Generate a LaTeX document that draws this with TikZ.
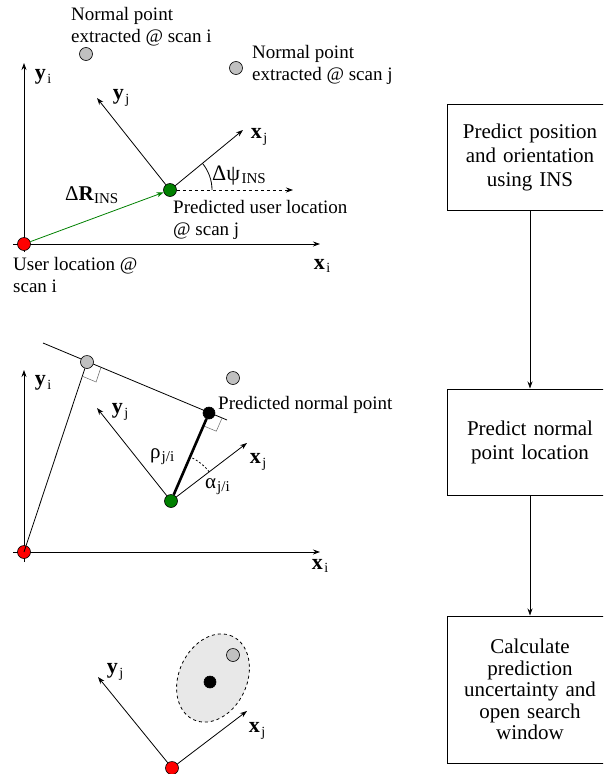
\documentclass[tikz,border=0pt]{standalone}
\usepackage{fontspec}
\setmainfont{Liberation Serif}
\usetikzlibrary{arrows.meta,shapes.geometric}
\definecolor{dgreen}{RGB}{0,128,0}
\definecolor{ptgray}{RGB}{192,192,192}
\definecolor{elgray}{RGB}{232,232,232}
\newcommand{\axl}[2]{{\fontsize{22}{22}\selectfont\bfseries #1}\kern1.5pt{\fontsize{14}{14}\selectfont\raisebox{-3.5pt}{#2}}}
\newcommand{\sbs}[1]{{\fontsize{15}{15}\selectfont\raisebox{-3.5pt}{#1}}}
\begin{document}
\begin{tikzpicture}[x=1pt,y=-1pt,
  thinline/.style={line width=0.8pt},
  arr/.style={thinline,-{Stealth[length=7pt,width=5pt]}},
  dot/.style={circle,draw=black,line width=0.6pt,minimum size=13pt,inner sep=0pt},
  lbl/.style={font=\fontsize{19}{22}\selectfont, align=left, inner sep=0pt},
  axlbl/.style={inner sep=0pt},
  sq/.style={draw=black!60,line width=0.5pt},
  box/.style={draw, line width=1pt, minimum width=166pt, text width=160pt, align=center, font=\fontsize{21}{24}\selectfont, inner sep=0pt},
  ]
\useasboundingbox (0,0) rectangle (603,774);
\clip (0,0) rectangle (603,774);

% ---------- flow chart ----------
\node[box, minimum height=106pt] (b1) at (530,157) {Predict position\\and orientation\\using INS};
\node[box, minimum height=106pt] (b2) at (530,442) {Predict normal\\point location};
\node[box, minimum height=147pt, font=\fontsize{21}{21.5}\selectfont] (b3) at (530,689.5) {Calculate\\prediction\\uncertainty and\\open search\\window};
\draw[arr] (b1) -- (b2);
\draw[arr] (b2) -- (b3);

% ---------- panel 1 ----------
\coordinate (yi1) at (24,63); \coordinate (yi1b) at (24,252);
\coordinate (xi1) at (320,244); \coordinate (xi1b) at (13,244);
\draw[arr] (yi1b) -- (yi1);
\draw[arr] (xi1b) -- (xi1);
\coordinate (xj1) at (243,130);
\coordinate (yj1) at (97,98);
\coordinate (dj1) at (293,190);
\node[dot, fill=red] (r1) at (24,244) {};
\node[dot, fill=dgreen] (g1) at (170,190) {};
\draw[arr, color=dgreen] (r1) -- (g1);
\draw[arr] (g1) -- (xj1);
\draw[arr] (g1) -- (yj1);
\draw[arr, dashed] (g1) -- (dj1);
\draw[thinline] (212,190) arc[start angle=0, end angle=-39, radius=42];
\node[dot, fill=ptgray] (n1) at (86,54) {};
\node[dot, fill=ptgray] (n2) at (236,68) {};
\node[lbl, anchor=base west] (t1) at (71,42) {Normal point\\extracted @ scan i};
\node[lbl, anchor=base west] (t2) at (252,80) {Normal point\\extracted @ scan j};
\node[lbl, anchor=base west] (t3) at (173,235) {Predicted user location\\@ scan j};
\node[lbl, anchor=base west] (t4) at (13,292) {User location @\\scan i};
\node[axlbl] (ly1) at (43,77) {\axl{y}{i}};
\node[axlbl] (lx1) at (322,266) {\axl{x}{i}};
\node[axlbl] (lyj1) at (121,98) {\axl{y}{j}};
\node[axlbl] (lxj1) at (259,137) {\axl{x}{j}};
\node[inner sep=0pt, anchor=base west] (dR) at (65,200) {{\fontsize{21}{21}\selectfont Δ\textbf{R}}\sbs{INS}};
\node[inner sep=0pt, anchor=base west] (dpsi) at (212,180) {{\fontsize{22}{22}\selectfont Δψ}\kern1.5pt\sbs{INS}};

% ---------- panel 2 ----------
\coordinate (yi2) at (24,370); \coordinate (yi2b) at (24,562);
\coordinate (xi2) at (320,552); \coordinate (xi2b) at (13,552);
\draw[arr] (yi2b) -- (yi2);
\draw[arr] (xi2b) -- (xi2);
\coordinate (la) at (43,343); \coordinate (lb) at (227,420);
\draw[thinline] (la) -- (lb);
\coordinate (yj2) at (97,408);
\coordinate (xj2) at (247,443);
\node[dot, fill=red] (r2) at (24,552) {};
\node[dot, fill=ptgray] (p2) at (87,362) {};
\node[dot, fill=ptgray] (q2) at (233,378) {};
\node[dot, fill=dgreen] (g2) at (171,501) {};
\draw[thinline] (r2.center) -- (p2);
\draw[sq] (82.3,376.2) -- (96.1,382) -- (100.8,367.8);
\draw[sq] (203.4,425.8) -- (216.3,431.2) -- (221.9,418.4);
\node[dot, fill=black, minimum size=12pt] (k2) at (209,413) {};
\draw[line width=2.6pt] (g2) -- (k2);
\draw[arr] (g2) -- (yj2);
\draw[arr] (g2) -- (xj2);
\draw[thinline, dash pattern=on 2pt off 2pt] (209.2,471.9) arc[start angle=-37.3, end angle=-66.4, radius=48];
\node[lbl, anchor=base west] (t5) at (218,409) {Predicted normal point};
\node[axlbl] (ly2) at (43,383) {\axl{y}{i}};
\node[axlbl] (lx2) at (320,566) {\axl{x}{i}};
\node[axlbl] (lyj2) at (120,412) {\axl{y}{j}};
\node[axlbl] (lxj2) at (258,462) {\axl{x}{j}};
\node[inner sep=0pt, anchor=base west] (rho) at (150,458) {{\fontsize{21}{21}\selectfont ρ}\kern1pt\sbs{j/i}};
\node[inner sep=0pt, anchor=base west] (alp) at (205,488) {{\fontsize{21}{21}\selectfont α}\kern1pt\sbs{j/i}};

% ---------- panel 3 ----------
\node[ellipse, draw, dashed, thinline, fill=elgray, minimum width=92pt, minimum height=68pt, rotate=65, inner sep=0pt] (el) at (213,678) {};
\node[dot, fill=black, minimum size=12pt] (k3) at (210,682) {};
\node[dot, fill=ptgray] (q3) at (233,655) {};
\coordinate (yj3) at (98,677);
\coordinate (xj3) at (247,711);
\node[dot, fill=red] (r3) at (172,768) {};
\draw[arr] (r3) -- (yj3);
\draw[arr] (r3) -- (xj3);
\node[axlbl] (lyj3) at (115,672) {\axl{y}{j}};
\node[axlbl] (lxj3) at (257,731) {\axl{x}{j}};
\end{tikzpicture}
\end{document}
